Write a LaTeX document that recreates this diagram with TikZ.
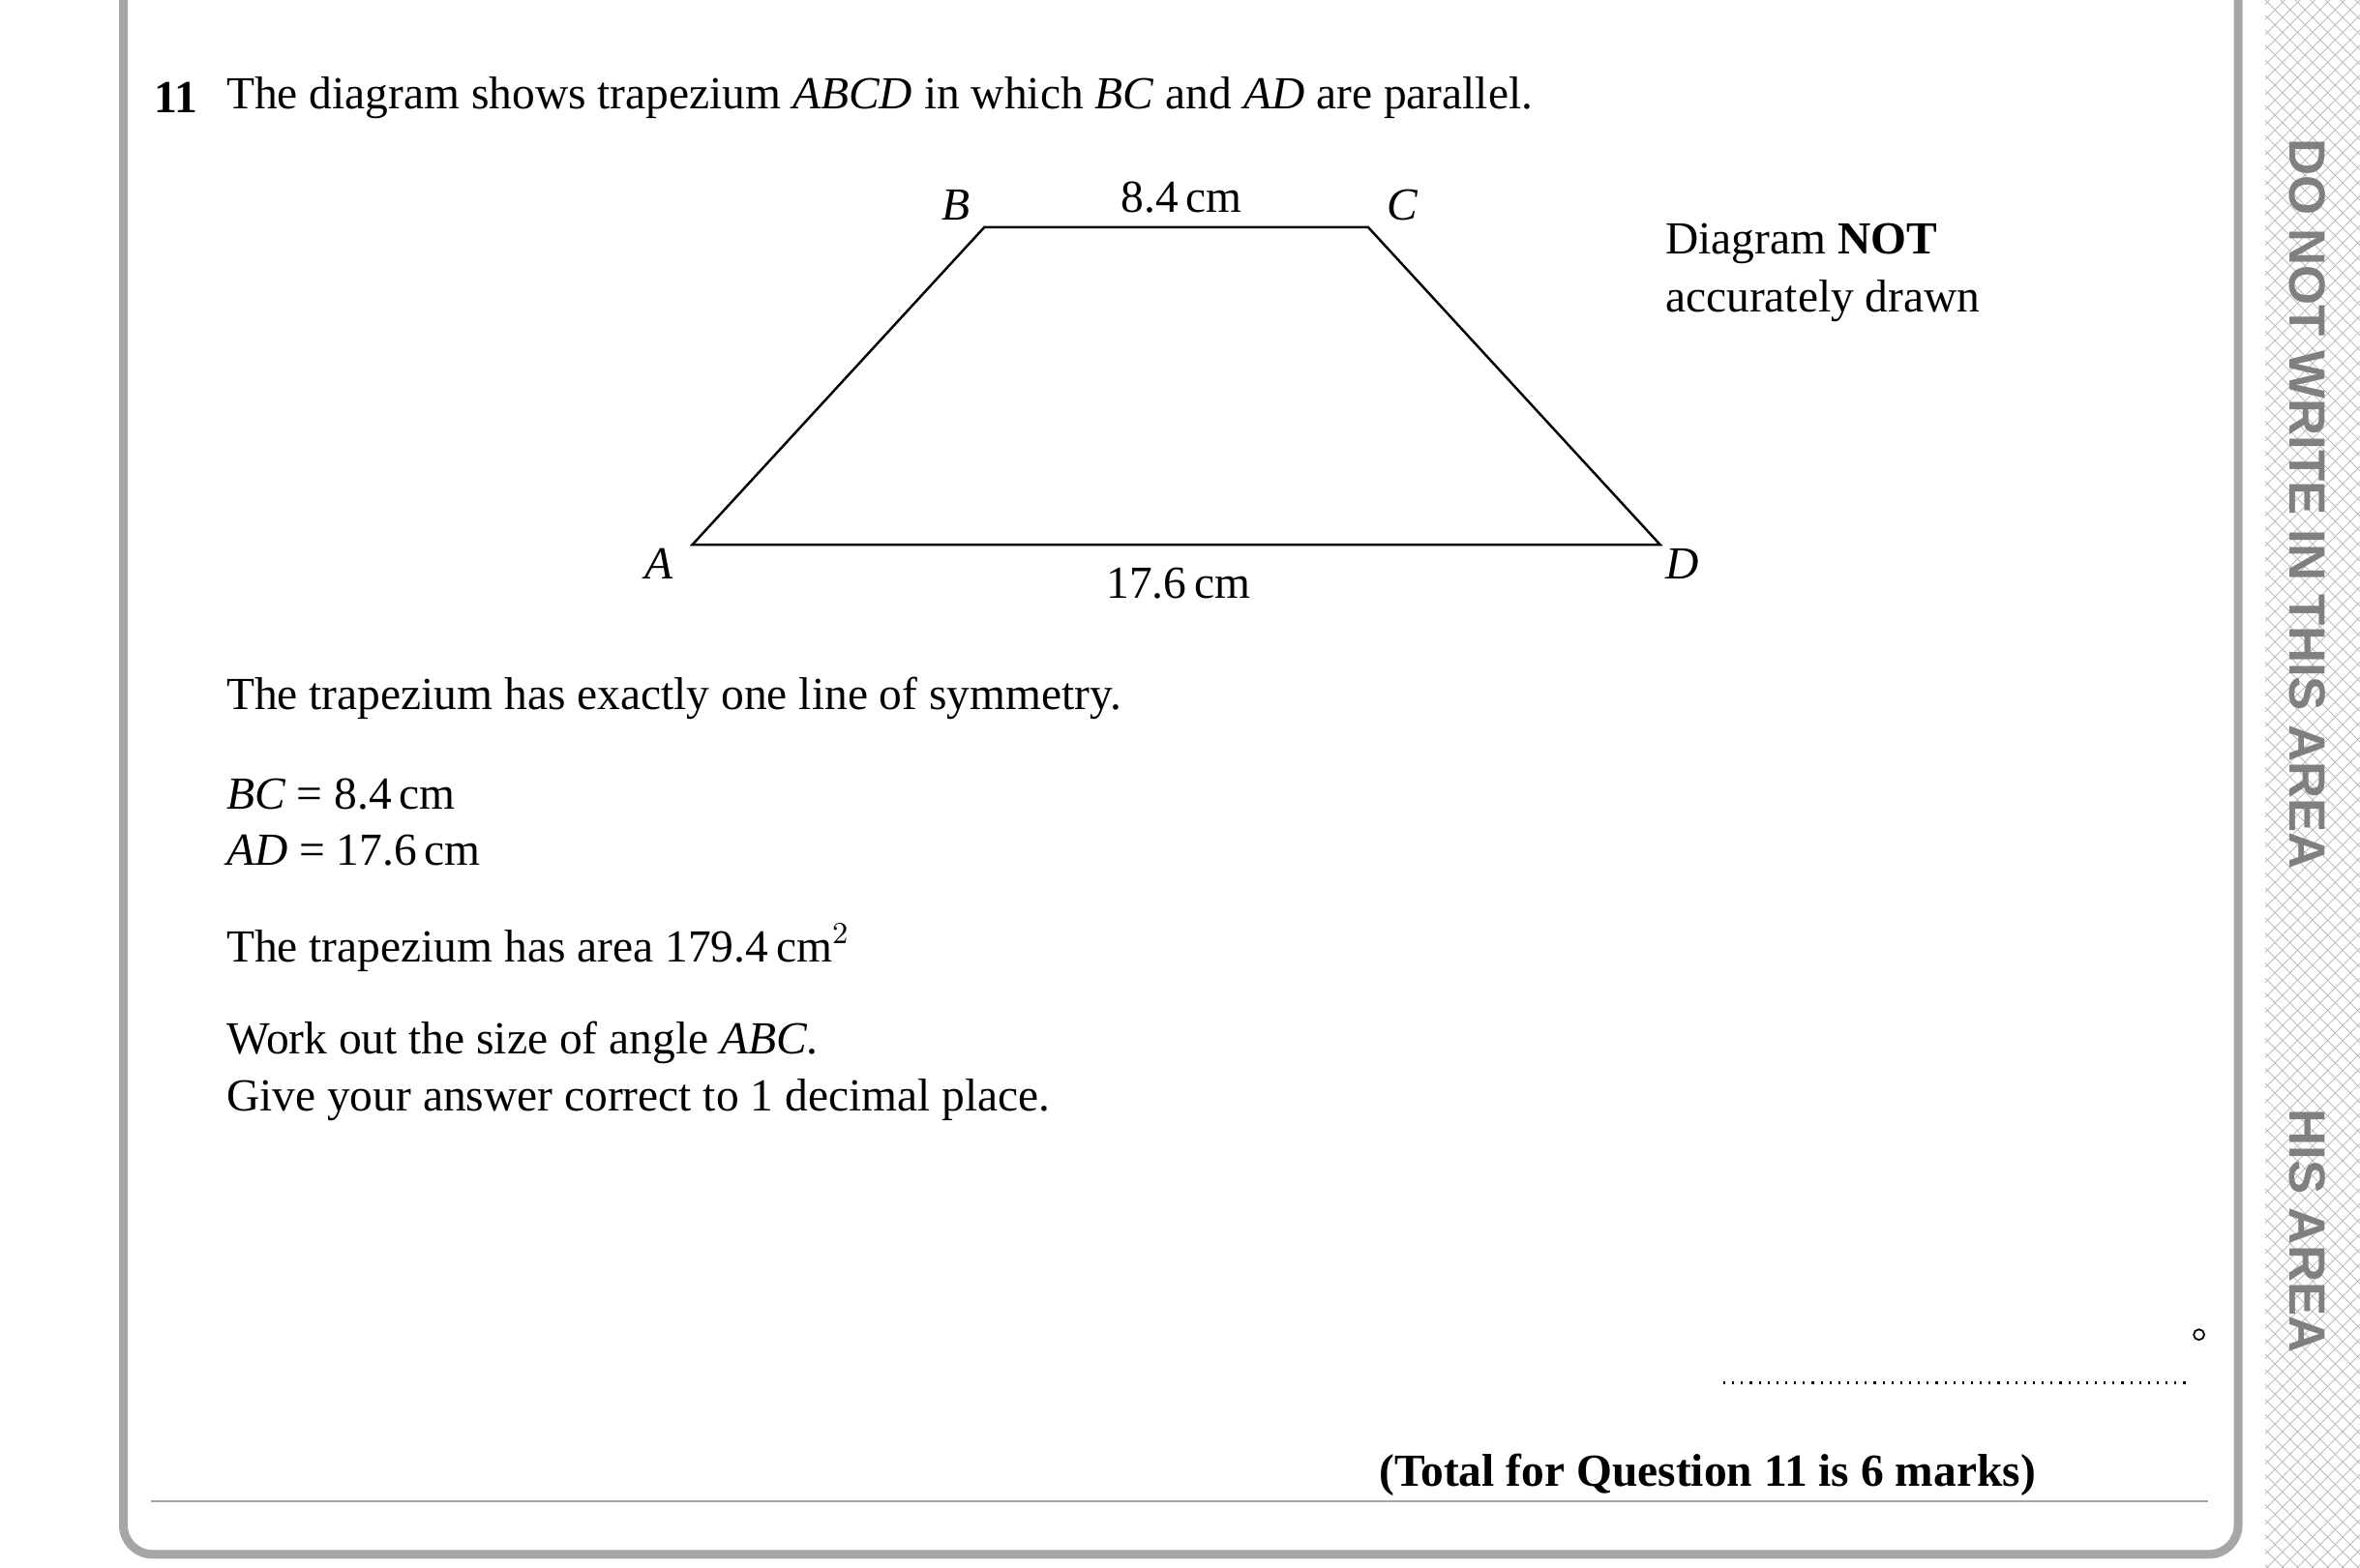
\documentclass[tikz,border=0pt]{standalone}
\usepackage{fontspec}
\setmainfont{Liberation Serif}
\setsansfont{Liberation Sans}
\tikzset{
  txt/.style={anchor=west, inner sep=0pt, font=\fontsize{13.5}{16}\selectfont},
  lbl/.style={inner sep=0pt, font=\fontsize{13.5}{16}\selectfont},
  frame/.style={draw=gray!70, line width=0.09cm, rounded corners=0.3cm},
  hatch/.style={gray!60, line width=0.2pt},
  edge/.style={line width=0.7pt}
}
\begin{document}
\begin{tikzpicture}[x=0.015555cm, y=-0.015555cm]
   \useasboundingbox (0,0) rectangle (1568,1041.5);
   % cadre de la question
   \draw[frame] (82,-20) -- (82,1033) -- (1487,1033) -- (1487,-20);
   \draw[gray!70, line width=0.6pt] (100,998) -- (1467,998);

   % bande hachuree
   \begin{scope}
      \clip (1505,0) rectangle (1568,1041.5);
      \foreach \k in {0,10,...,1120} {
         \draw[hatch] (1505,\k-60) -- (1568,\k+3);
         \draw[hatch] (1505,\k+3) -- (1568,\k-60);
      }
   \end{scope}
   \node[rotate=-90, text=gray, font=\sffamily\bfseries\fontsize{15}{18}\selectfont] (warn) at (1533,335) {DO NOT WRITE IN THIS AREA};
   \node[rotate=-90, text=gray, font=\sffamily\bfseries\fontsize{15}{18}\selectfont] (warn2) at (1533,818) {HIS AREA};

   % enonce
   \node[txt, font=\bfseries\fontsize{13.5}{16}\selectfont] (num) at (102,65) {11};
   \node[txt] (intro) at (150,65) {The diagram shows trapezium \textit{ABCD} in which \textit{BC} and \textit{AD} are parallel.};

   % le trapeze
   \coordinate (A) at (460,362);
   \coordinate (B) at (654,151);
   \coordinate (C) at (909,151);
   \coordinate (D) at (1103,362);
   \draw[edge] (A) -- (B) -- (C) -- (D) -- cycle;
   \node[lbl] (lA) at (438,375) {\textit{A}};
   \node[lbl] (lB) at (635,136) {\textit{B}};
   \node[lbl] (lC) at (932,136) {\textit{C}};
   \node[lbl] (lD) at (1118,375) {\textit{D}};
   \node[lbl] (bc) at (785,131) {8.4\,cm};
   \node[lbl] (ad) at (783,388) {17.6\,cm};
   \node[txt] (note1) at (1106,162) {Diagram \textbf{NOT}};
   \node[txt] (note2) at (1106,200) {accurately drawn};

   % donnees
   \node[txt] (sym) at (150,464) {The trapezium has exactly one line of symmetry.};
   \node[txt] (dbc) at (150,528) {\textit{BC} = 8.4\,cm};
   \node[txt] (dad) at (150,565) {\textit{AD} = 17.6\,cm};
   \node[txt] (area) at (150,630) {The trapezium has area 179.4\,cm$^{2}$};
   \node[txt] (ask1) at (150,693) {Work out the size of angle \textit{ABC}.};
   \node[txt] (ask2) at (150,731) {Give your answer correct to 1 decimal place.};

   % ligne de reponse
   \draw[line width=0.6pt, dotted] (1145,919) -- (1452,919);
   \draw[line width=0.5pt] (1461,887) circle (3.5);
   \node[lbl, anchor=east, font=\bfseries\fontsize{13.5}{16}\selectfont] (total) at (1353,980) {(Total for Question 11 is 6 marks)};
\end{tikzpicture}
\end{document}
